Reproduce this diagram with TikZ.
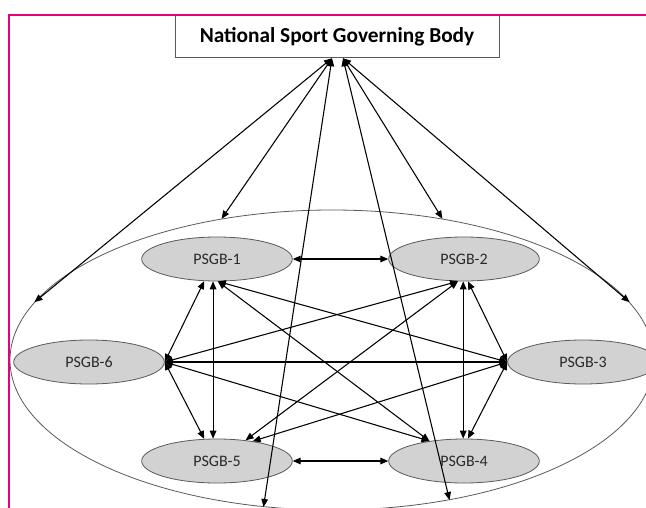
\documentclass[tikz,border=0pt]{standalone}
\usepackage{fontspec}
\setmainfont{Carlito}
\usepackage{tikz}
\usetikzlibrary{positioning,arrows.meta,shapes.geometric}
\definecolor{frameMagenta}{HTML}{E5007D}
\definecolor{psgbFill}{HTML}{D2D2D2}
\definecolor{edgeGray}{HTML}{5A5A5A}
\definecolor{textDark}{HTML}{2A2A2A}

\begin{document}
\begin{tikzpicture}[
    x=0.75pt, y=-0.75pt,
    body/.style={draw=edgeGray, line width=0.6pt, fill=white, minimum width=243pt, minimum height=32pt, inner sep=0pt, font=\fontsize{16}{18}\selectfont\bfseries},
    psgb/.style={ellipse, draw=edgeGray, line width=0.6pt, fill=psgbFill, minimum width=113pt, minimum height=33pt, inner sep=0pt, text=textDark, font=\fontsize{12}{14}\selectfont},
    region/.style={ellipse, draw=edgeGray, line width=0.6pt, minimum width=483pt, minimum height=225pt, inner sep=0pt},
    arrow/.style={<->, >={Triangle[length=6pt,width=5pt]}, line width=0.8pt}
  ]
  \useasboundingbox (0,0) rectangle (646,507);
  \clip (0,0) rectangle (646,507);
  \fill[white] (0,0) rectangle (646,507);

  \node[body]   (nsgb)   at (337,36.5) {National Sport Governing Body};
  \node[region] (league) at (332,360)  {};
  \node[psgb]   (p1)     at (217,259)  {PSGB-1};
  \node[psgb]   (p2)     at (464,259)  {PSGB-2};
  \node[psgb]   (p3)     at (583,362)  {PSGB-3};
  \node[psgb]   (p4)     at (464,461)  {PSGB-4};
  \node[psgb]   (p5)     at (217,461)  {PSGB-5};
  \node[psgb]   (p6)     at (89,362)   {PSGB-6};

  \coordinate (nsgbL) at ([xshift=-3.75pt]nsgb.south);
  \coordinate (nsgbR) at ([xshift=4.5pt]nsgb.south);

  \draw[arrow] (nsgbL) -- (league.169.6);
  \draw[arrow] (nsgbL) -- (league.128.5);
  \draw[arrow] (nsgbL) -- (league.-115);
  \draw[arrow] (nsgbR) -- (league.52);
  \draw[arrow] (nsgbR) -- (league.11);
  \draw[arrow] (nsgbR) -- (league.-50.5);

  \draw[arrow] (p1) -- (p2);
  \draw[arrow] (p5) -- (p4);
  \draw[arrow] (p6) -- (p3);
  \draw[arrow] (p6.east) -- (p1.-120);
  \draw[arrow] (p6.east) -- (p5.120);
  \draw[arrow] (p6.east) -- (p2.-105);
  \draw[arrow] (p6.east) -- (p4.150);
  \draw[arrow] (p1.-100) -- (p5.100);
  \draw[arrow] (p1.-88) -- (p3.west);
  \draw[arrow] (p1.-88) -- (p4.150);
  \draw[arrow] (p2.-92) -- (p4.92);
  \draw[arrow] (p2.-105) -- (p5.36);
  \draw[arrow] (p2.-80) -- (p3.west);
  \draw[arrow] (p3.west) -- (p5.29);
  \draw[arrow] (p3.west) -- (p4.80);

  \draw[frameMagenta, line width=1.6pt] (9,520) -- (9,15) -- (660,15);
\end{tikzpicture}
\end{document}
